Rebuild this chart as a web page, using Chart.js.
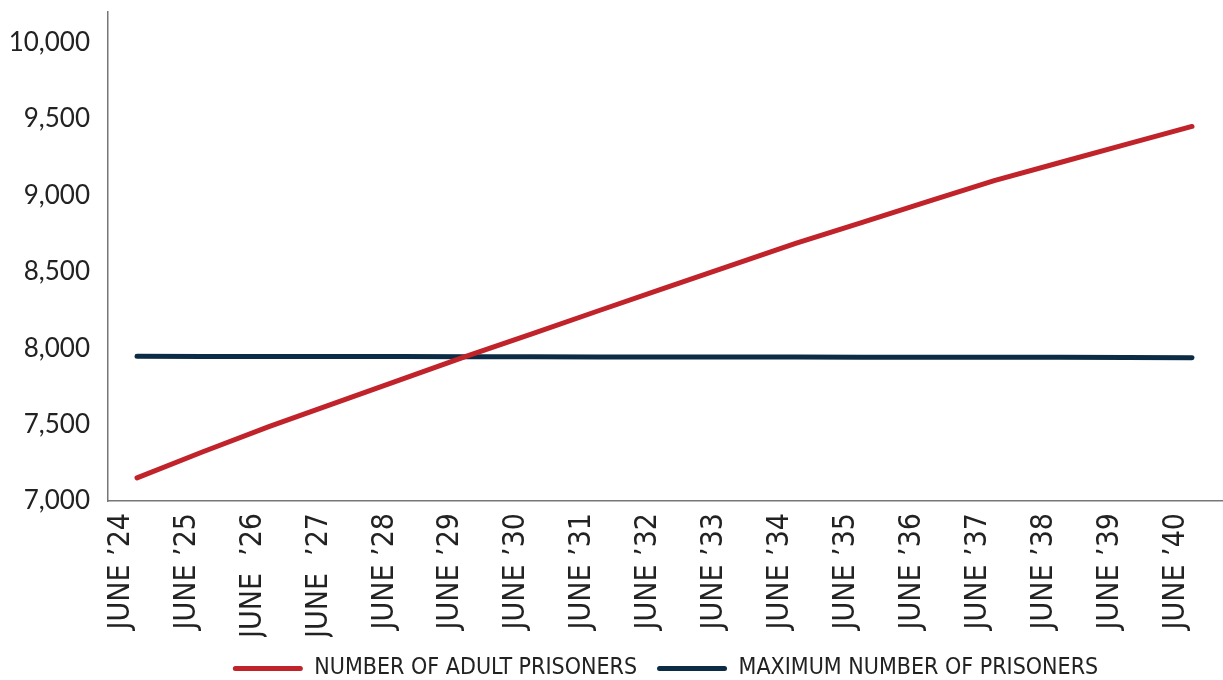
<!DOCTYPE html>
<html>
<head>
<meta charset="utf-8">
<script src="https://cdn.jsdelivr.net/npm/chart.js@4.4.0/dist/chart.umd.min.js"></script>
<style>
  html, body { margin: 0; padding: 0; background: #fff; }
  #wrap { width: 1223px; height: 680px; }
</style>
</head>
<body>
<div id="wrap"><canvas id="prisonChart"></canvas></div>
<script>
const categories = ["JUNE \u201924", "JUNE \u201925", "JUNE  \u201926", "JUNE  \u201927", "JUNE \u201928",
  "JUNE \u201929", "JUNE \u201930", "JUNE \u201931", "JUNE \u201932", "JUNE \u201933", "JUNE \u201934",
  "JUNE \u201935", "JUNE \u201936", "JUNE \u201937", "JUNE \u201938", "JUNE \u201939", "JUNE \u201940"];

const adultPrisoners = [7151, 7322, 7487, 7641, 7794, 7948, 8096, 8245, 8393, 8541,
  8687, 8824, 8961, 9097, 9215, 9334, 9451];

const maxPrisoners = [7947, 7946, 7946, 7945, 7945, 7944, 7944, 7943, 7943, 7942,
  7942, 7941, 7941, 7940, 7940, 7939, 7938];

const yTicks = [7000, 7500, 8000, 8500, 9000, 9500, 10000];

const red = '#c1232b';
const navy = '#0b2c44';

function toPoints(values) {
  return values.map((v, i) => ({ x: i, y: v }));
}

// drop the extra room Chart.js keeps for edge labels, so the plot fills the frame
function noEdgePadding(s) {
  s.paddingTop = 0;
  s.paddingBottom = 0;
  s.paddingLeft = 0;
  s.paddingRight = 0;
}

const ctx = document.getElementById('prisonChart').getContext('2d');
const chart = new Chart(ctx, {
  type: 'line',
  data: {
    datasets: [
      {
        label: 'NUMBER OF ADULT PRISONERS',
        data: toPoints(adultPrisoners),
        borderColor: red,
        backgroundColor: red,
        borderWidth: 5,
        borderCapStyle: 'round',
        pointRadius: 0,
        tension: 0
      },
      {
        label: 'MAXIMUM NUMBER OF PRISONERS',
        data: toPoints(maxPrisoners),
        borderColor: navy,
        backgroundColor: navy,
        borderWidth: 5,
        borderCapStyle: 'round',
        pointRadius: 0,
        tension: 0
      }
    ]
  },
  options: {
    responsive: true,
    maintainAspectRatio: false,
    animation: false,
    layout: { padding: { top: 12, left: 0, right: 0, bottom: -10 } },
    scales: {
      x: {
        type: 'linear',
        min: -0.44,
        max: 16.47,
        grid: { display: false, drawTicks: false },
        border: { display: true, color: '#777', width: 1.5 },
        afterBuildTicks: s => { s.ticks = categories.map((c, i) => ({ value: i })); },
        afterFit: s => { s.height = 136; noEdgePadding(s); },
        ticks: {
          autoSkip: false,
          minRotation: 90,
          maxRotation: 90,
          padding: 12,
          labelOffset: -16,
          color: '#222',
          font: { family: '"Liberation Sans Narrow", "DejaVu Sans Condensed", sans-serif', size: 30 },
          callback: v => categories[v]
        }
      },
      y: {
        min: 7000,
        max: 10200,
        grid: { display: false, drawTicks: false },
        border: { display: true, color: '#777', width: 1.5 },
        afterBuildTicks: s => { s.ticks = yTicks.map(v => ({ value: v })); },
        afterFit: s => { s.width = 108; noEdgePadding(s); },
        ticks: {
          padding: 18,
          color: '#222',
          font: { family: 'Lato, sans-serif', size: 26 },
          callback: v => v.toLocaleString('en-US')
        }
      }
    },
    plugins: {
      tooltip: { enabled: false },
      legend: {
        position: 'bottom',
        fullSize: false,
        labels: {
          boxWidth: 70,
          boxHeight: 5,
          padding: 20,
          color: '#222',
          font: { family: '"Liberation Sans Narrow", "DejaVu Sans Condensed", sans-serif', size: 23 },
          generateLabels: c => c.data.datasets.map((d, i) => ({
            text: d.label,
            fillStyle: d.borderColor,
            strokeStyle: d.borderColor,
            lineWidth: 0,
            borderRadius: 2.5,
            fontColor: '#222',
            datasetIndex: i
          }))
        }
      }
    }
  }
});
</script>
</body>
</html>
